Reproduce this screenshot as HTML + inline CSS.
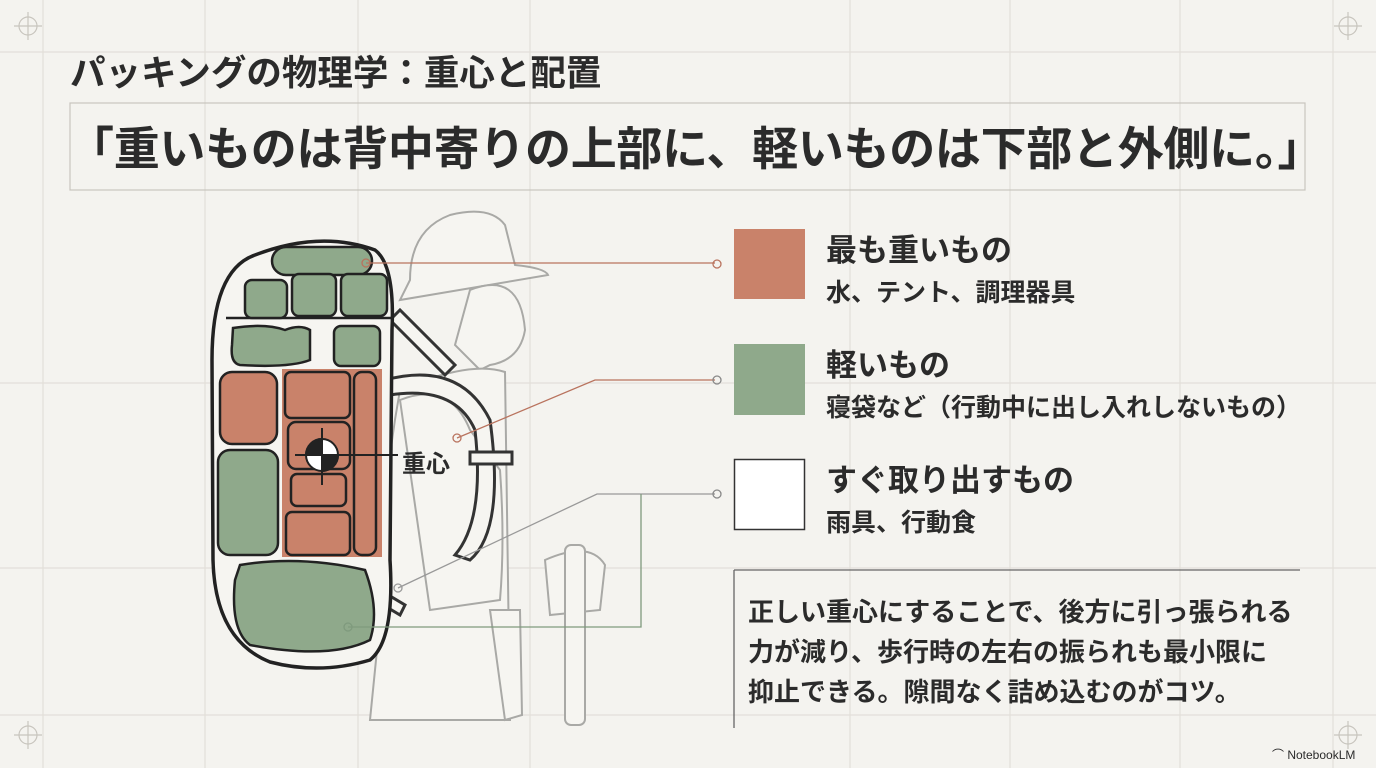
<!DOCTYPE html>
<html><head><meta charset="utf-8"><style>
html,body{margin:0;padding:0;}
body{width:1376px;height:768px;background:#f4f3ef;overflow:hidden;position:relative;font-family:"Liberation Sans","Noto Sans CJK JP",sans-serif;color:#2b2b2b;}
.t{position:absolute;white-space:nowrap;font-weight:700;}
</style></head><body>
<svg width="1376" height="768" style="position:absolute;left:0;top:0" xmlns="http://www.w3.org/2000/svg">
<g stroke="#e2dfd9" stroke-width="1.2" fill="none">
<line x1="43" y1="0" x2="43" y2="768"/><line x1="205" y1="0" x2="205" y2="768"/>
<line x1="358" y1="0" x2="358" y2="768"/><line x1="530" y1="0" x2="530" y2="768"/>
<line x1="850" y1="0" x2="850" y2="768"/><line x1="1010" y1="0" x2="1010" y2="768"/>
<line x1="1180" y1="0" x2="1180" y2="768"/><line x1="1333" y1="0" x2="1333" y2="768"/>
<line x1="0" y1="52" x2="1376" y2="52"/><line x1="0" y1="383" x2="1376" y2="383"/>
<line x1="0" y1="568" x2="1376" y2="568"/><line x1="0" y1="715" x2="1376" y2="715"/>
</g>
<g stroke="#c8c5be" stroke-width="1.2" fill="none">
<rect x="70" y="103" width="1235" height="87"/>
<circle cx="28" cy="26" r="9"/><line x1="28" y1="12" x2="28" y2="40"/><line x1="14" y1="26" x2="42" y2="26"/>
<circle cx="1348" cy="26" r="9"/><line x1="1348" y1="12" x2="1348" y2="40"/><line x1="1334" y1="26" x2="1362" y2="26"/>
<circle cx="28" cy="735" r="9"/><line x1="28" y1="721" x2="28" y2="749"/><line x1="14" y1="735" x2="42" y2="735"/>
<circle cx="1348" cy="735" r="9"/><line x1="1348" y1="721" x2="1348" y2="749"/><line x1="1334" y1="735" x2="1362" y2="735"/>
</g>
<g stroke="#a9a9a6" stroke-width="2" fill="#f6f5f1">
<path d="M410 280 Q410 230 450 215 Q490 205 505 225 L515 265 Q545 268 548 275 L400 300 Z"/>
<path d="M470 290 Q520 270 525 330 Q520 360 490 365 L480 370 Q470 360 455 345 Z"/>
<path d="M400 390 Q470 360 505 372 L510 720 L370 720 L380 620 Q380 500 400 390 Z"/>
<path d="M545 560 Q590 540 605 565 L600 610 L550 615 Z"/>
<rect x="565" y="545" width="20" height="180" rx="6" fill="#f6f5f1"/>
<path d="M400 400 Q450 380 470 430 L500 470 Q505 540 500 600 L430 610 Z"/>
<path d="M490 610 L520 610 L522 715 L505 720 Z"/>
</g>
<g stroke="#333" stroke-width="3" fill="#f6f5f1">
<path d="M390 320 L445 375 L455 365 L400 310 Z"/>
<path d="M385 380 Q460 360 490 420 Q505 530 470 560 L455 555 Q485 520 475 430 Q455 385 390 395 Z"/>
<rect x="470" y="452" width="42" height="12"/>
<path d="M380 590 L405 605 L400 615 L375 600 Z"/>
</g>
<path d="M255 255 Q320 230 375 250 Q395 265 392 330 L390 560 Q395 640 370 660 Q320 675 270 662 Q215 640 213 560 L212 360 Q212 270 255 255 Z" fill="#f6f5f1" stroke="#222" stroke-width="3.5"/>
<line x1="226" y1="318" x2="392" y2="318" stroke="#222" stroke-width="2.5"/>
<g stroke="#222" stroke-width="2.5" fill="#8fa98b">
<rect x="272" y="247" width="100" height="28" rx="14"/>
<rect x="245" y="280" width="42" height="38" rx="7"/>
<rect x="292" y="274" width="44" height="42" rx="7"/>
<rect x="341" y="274" width="46" height="42" rx="7"/>
<path d="M233 328 Q265 323 285 330 Q300 324 310 330 L310 360 Q290 368 240 365 Q230 363 232 345 Z"/>
<rect x="334" y="326" width="46" height="40" rx="7"/>
<rect x="218" y="450" width="60" height="105" rx="12"/>
<path d="M240 565 Q300 555 365 570 Q380 610 370 640 Q330 660 250 645 Q230 630 235 580 Z"/>
<rect x="220" y="372" width="57" height="72" rx="12" fill="#c9826a"/>
</g>
<rect x="282" y="369" width="100" height="188" fill="#c9826a"/>
<g stroke="#222" stroke-width="2.5" fill="#c9826a">
<rect x="285" y="372" width="65" height="46" rx="6"/>
<rect x="354" y="372" width="22" height="183" rx="8"/>
<rect x="288" y="422" width="62" height="47" rx="8"/>
<rect x="291" y="474" width="55" height="32" rx="6"/>
<rect x="286" y="512" width="64" height="43" rx="6"/>
</g>
<g stroke="#222" stroke-width="2">
<line x1="322" y1="428" x2="322" y2="485"/><line x1="295" y1="455" x2="398" y2="455"/>
<circle cx="322" cy="455" r="16" fill="#fff"/>
<path d="M322 439 A16 16 0 0 0 306 455 L322 455 Z" fill="#222"/>
<path d="M322 471 A16 16 0 0 0 338 455 L322 455 Z" fill="#222"/>
</g>
<g fill="none" stroke-width="1.3">
<path d="M366 263 L715 263" stroke="#b9735e"/><circle cx="366" cy="263" r="4" stroke="#b9735e"/>
<circle cx="717" cy="264" r="4" stroke="#b9735e"/>
<path d="M457 438 L595 380 L715 380" stroke="#b9735e"/><circle cx="457" cy="438" r="4" stroke="#b9735e"/>
<circle cx="717" cy="380" r="4" stroke="#888"/>
<path d="M398 588 L597 494 L715 494" stroke="#999"/><circle cx="398" cy="588" r="4" stroke="#999"/>
<circle cx="717" cy="494" r="4" stroke="#888"/>
<path d="M348 627 L641 627 L641 494" stroke="#7f9a7d"/><circle cx="348" cy="627" r="4" stroke="#7f9a7d"/>
</g>
<rect x="734" y="229" width="71" height="70" fill="#c9826a"/>
<rect x="734" y="344" width="71" height="71" fill="#8fa98b"/>
<rect x="734.5" y="459.5" width="70" height="70" fill="#fff" stroke="#333" stroke-width="1.5"/>
<g stroke="#666" stroke-width="1.3"><line x1="734" y1="570" x2="1300" y2="570"/><line x1="734" y1="570" x2="734" y2="728"/></g>
</svg>
<div class="t" style="left:70px;top:50px;font-size:35.5px;line-height:46px;">パッキングの物理学：重心と配置</div>
<div class="t" style="left:68px;top:120px;font-size:46px;line-height:58px;letter-spacing:-0.3px;">「重いものは背中寄りの上部に、軽いものは下部と外側に。」</div>
<div class="t" style="left:402px;top:444px;font-size:24px;">重心</div>
<div class="t" style="left:826px;top:225px;font-size:31px;">最も重いもの</div>
<div class="t" style="left:826px;top:273px;font-size:25px;">水、テント、調理器具</div>
<div class="t" style="left:826px;top:340px;font-size:31px;">軽いもの</div>
<div class="t" style="left:826px;top:388px;font-size:25px;">寝袋など（行動中に出し入れしないもの）</div>
<div class="t" style="left:826px;top:455px;font-size:31px;">すぐ取り出すもの</div>
<div class="t" style="left:826px;top:503px;font-size:25px;">雨具、行動食</div>
<div class="t" style="left:748px;top:592px;font-size:26px;line-height:40px;">正しい重心にすることで、後方に引っ張られる<br>力が減り、歩行時の左右の振られも最小限に<br>抑止できる。隙間なく詰め込むのがコツ。</div>
<div class="t" style="left:1272px;top:746px;font-size:12px;font-weight:400;">⌒ NotebookLM</div>
</body></html>
